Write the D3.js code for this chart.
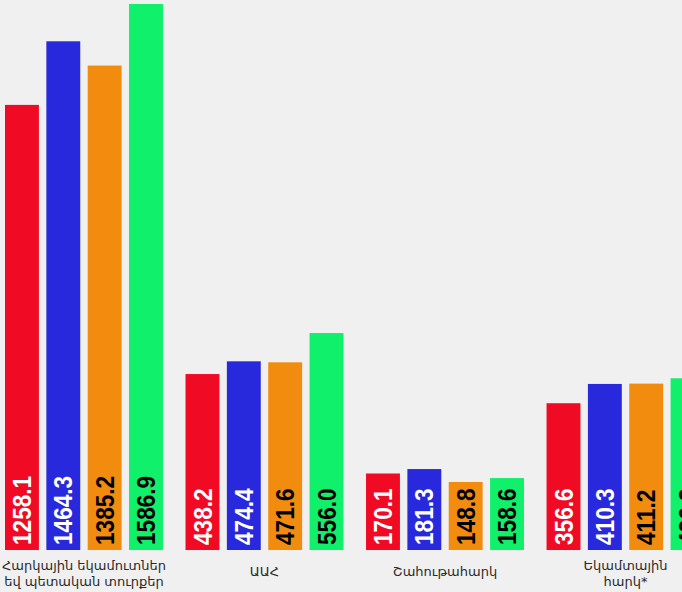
<!DOCTYPE html>
<html>
<head>
<style>
  body {
    margin: 0px;
    background-color: #f0f0f0;
  }
</style>
<script src="https://cdn.jsdelivr.net/npm/d3@7"></script>
</head>
<body>
<script>
// categories (two lines where the original wraps)
const categories = [
  ["Հարկային եկամուտներ", "եվ պետական տուրքեր"],
  ["ԱԱՀ"],
  ["Շահութահարկ"],
  ["Եկամտային", "հարկ*"]
];

// four series, one value per category
const series1 = [1258.1, 438.2, 170.1, 356.6];
const series2 = [1464.3, 474.4, 181.3, 410.3];
const series3 = [1385.2, 471.6, 148.8, 411.2];
const series4 = [1586.9, 556.0, 158.6, 426.3];

const allSeries = [series1, series2, series3, series4];
const colors = ["#f00a23", "#2828dc", "#f28c0f", "#10f06a"];
const labelColors = ["#ffffff", "#ffffff", "#000000", "#000000"];

const width = 682,
    height = 592,
    baseY = 550;

const svg = d3.select("body").append("svg")
    .attr("width", width)
    .attr("height", height);

svg.append("rect")
    .attr("width", width)
    .attr("height", height)
    .attr("fill", "#f0f0f0");

const x0 = d3.scaleBand()
    .domain(d3.range(categories.length))
    .range([5, 704.5])
    .paddingInner(0.125);

const x1 = d3.scaleBand()
    .domain(d3.range(allSeries.length))
    .range([0, x0.bandwidth()])
    .paddingInner(0.18);

// the original bars are not drawn to a linear scale
const y = d3.scalePow()
    .exponent(0.88)
    .domain([0, d3.max(allSeries, function(s) {return d3.max(s)})])
    .range([baseY, 4]);

const groups = svg.selectAll("g.group")
    .data(categories)
    .join("g")
    .attr("class", "group")
    .attr("transform", function(d, i) {return "translate(" + x0(i) + ",0)"});

groups.each(function(cat, gi) {
  const g = d3.select(this);
  const vals = allSeries.map(function(s) {return s[gi]});

  g.selectAll("rect")
      .data(vals)
      .join("rect")
      .attr("x", function(d, i) {return x1(i)})
      .attr("y", function(d) {return y(d)})
      .attr("width", x1.bandwidth())
      .attr("height", function(d) {return baseY - y(d)})
      .attr("fill", function(d, i) {return colors[i]});

  g.selectAll("text.val")
      .data(vals)
      .join("text")
      .attr("class", "val")
      .attr("transform", function(d, i) {
        return "translate(" + (x1(i) + x1.bandwidth() / 2) + "," + (baseY - 5) + ") rotate(-90) scale(0.87,1)";
      })
      .attr("dy", "0.35em")
      .attr("font-family", "'Liberation Sans', Arial, sans-serif")
      .attr("font-weight", "bold")
      .attr("font-size", 26)
      .attr("fill", function(d, i) {return labelColors[i]})
      .text(function(d) {return d.toFixed(1)});

  const lab = g.append("text")
      .attr("x", x0.bandwidth() / 2)
      .attr("y", cat.length > 1 ? 570 : 576)
      .attr("text-anchor", "middle")
      .attr("font-family", "'DejaVu Sans', sans-serif")
      .attr("font-size", 13)
      .attr("fill", "#2a2a2a");

  lab.selectAll("tspan")
      .data(cat)
      .join("tspan")
      .attr("x", x0.bandwidth() / 2)
      .attr("dy", function(d, i) {return i ? 16 : 0})
      .text(function(d) {return d});
});
</script>
</body>
</html>
